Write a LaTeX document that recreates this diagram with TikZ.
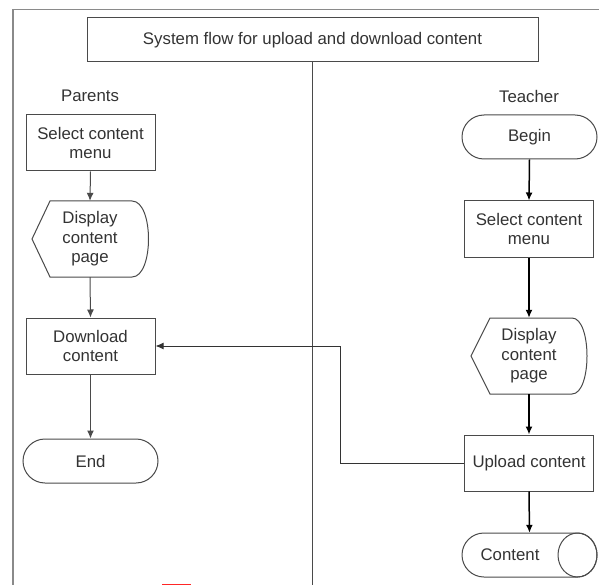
\documentclass[tikz,border=0pt]{standalone}
\usepackage{fontspec}
\setmainfont{Liberation Sans}
\usetikzlibrary{arrows.meta}
\definecolor{ink}{HTML}{333333}
\definecolor{edge}{HTML}{4A4A4A}
\definecolor{frame}{HTML}{8A8A8A}
\tikzset{
  txt/.style={font=\fontsize{16.8}{19.5}\selectfont, text=ink, align=center, inner sep=0pt},
  boxnode/.style={txt, draw=edge, line width=1pt, minimum width=129pt, minimum height=56pt},
  termnode/.style={txt, draw=edge, line width=1pt, rounded corners=22pt, minimum width=135pt, minimum height=44pt},
  dispnode/.style={txt, minimum width=100pt, minimum height=76pt},
  shapeline/.style={draw=edge, line width=1pt},
  thinarr/.style={draw=edge, line width=1pt, -{Latex[length=8pt,width=7pt]}},
  thickarr/.style={draw=black, line width=1.5pt, -{Latex[length=8pt,width=7pt]}},
  linkarr/.style={draw=black!80, line width=1pt, -{Latex[length=8pt,width=7pt]}}
}
\begin{document}
\begin{tikzpicture}[x=1pt,y=-1pt]
\useasboundingbox (0,0) rectangle (599,585);
% outer frame (cut off at right and bottom)
\draw[frame, line width=1.5pt] (13,585) -- (13,9.5) -- (599,9.5);
% small red mark at bottom edge
\fill[red!85] (162,583.5) rectangle (191,585);
% title
\node[txt, draw=edge, line width=1pt, minimum width=451pt, minimum height=44.5pt] (title) at (312.5,39.75) {System flow for upload and download content};
\coordinate (divbot) at (312.7,585);
\draw[edge, line width=1pt] (title.south -| divbot) -- (divbot);
% lane labels
\node[txt] (parents) at (90,96) {Parents};
\node[txt] (teacher) at (529,96) {Teacher};
% left lane
\node[boxnode] (psel) at (90.5,143) {Select content\\menu};
\node[dispnode] (pdisp) at (90,239) {Display\\content\\page};
\draw[shapeline, shift={(pdisp.center)}] (-58,0) -- (-40,-38) -- (42,-38) .. controls (64,-38) and (64,38) .. (42,38) -- (-40,38) -- cycle;
\node[boxnode] (pdown) at (90.5,346) {Download\\content};
\node[termnode] (pend) at (90.5,461) {End};
\draw[thinarr] (psel.south) -- (pdisp.north);
\draw[thinarr] (pdisp.south) -- (pdown.north);
\draw[thinarr] (pdown.south) -- (pend.north);
% right lane
\node[termnode] (tbeg) at (529.5,137) {Begin};
\node[boxnode] (tsel) at (529,229) {Select content\\menu};
\node[dispnode] (tdisp) at (529,356) {Display\\content\\page};
\draw[shapeline, shift={(tdisp.center)}] (-58,0) -- (-39,-38) -- (43,-38) .. controls (63,-38) and (63,38) .. (43,38) -- (-39,38) -- cycle;
\node[boxnode] (tup) at (529,463) {Upload content};
\node[txt, minimum width=135pt, minimum height=44pt] (store) at (529.5,555) {};
\node[txt] (storetxt) at (510,555) {Content};
\draw[shapeline] (484,533) -- (577.5,533) arc[start angle=90, end angle=-90, x radius=19.5pt, y radius=22pt] -- (484,577) arc[start angle=270, end angle=90, radius=22pt] -- cycle;
\draw[shapeline] (577.5,555) ellipse [x radius=19.5pt, y radius=22pt];
\draw[thickarr] (tbeg.south) -- (tsel.north);
\draw[thickarr] (tsel.south) -- (tdisp.north);
\draw[thickarr] (tdisp.south) -- (tup.north);
\draw[thickarr] (tup.south) -- (store.north);
% cross-lane link
\draw[linkarr] (tup.west) -- ++(-124,0) |- (pdown.east);
\end{tikzpicture}
\end{document}
